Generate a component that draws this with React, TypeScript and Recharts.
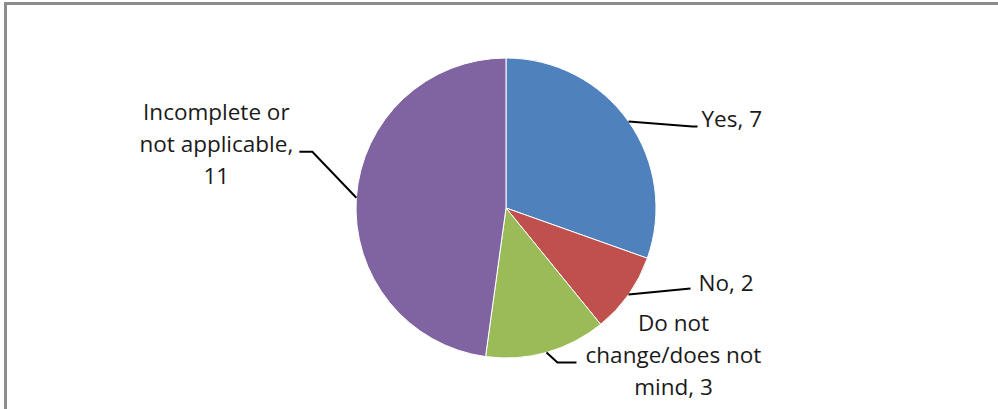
import React from 'react';
import { PieChart, Pie, Cell } from 'recharts';

const categories = ['Yes', 'No', 'Do not change/does not mind', 'Incomplete or not applicable'];
const counts = [7, 2, 3, 11];
const labelLines = [
  ['Yes, 7'],
  ['No, 2'],
  ['Do not', 'change/does not', 'mind, 3'],
  ['Incomplete or', 'not applicable,', '11'],
];

const COLORS = ['#4f81bd', '#c0504d', '#9bbb59', '#8064a2'];

const data = categories.map((name, i) => ({ name, value: counts[i] }));

// leader line bends and text placement, offsets from the slice edge point
const LABEL_LAYOUT = [
  { pts: [[64, 5], [69, 5]], tx: 73, ty: 6, anchor: 'start' },
  { pts: [[62, -6]], tx: 70, ty: -4, anchor: 'start' },
  { pts: [[11, 10], [30, 10]], tx: 127, ty: -21, anchor: 'middle' },
  { pts: [[-44, -46], [-57, -46]], tx: -140, ty: -78, anchor: 'middle' },
];

const RADIAN = Math.PI / 180;
const LINE_H = 32;

const renderLabel = (props: any) => {
  const { cx, cy, midAngle, outerRadius, index } = props;
  const ex = cx + outerRadius * Math.cos(-midAngle * RADIAN);
  const ey = cy + outerRadius * Math.sin(-midAngle * RADIAN);
  const lay = LABEL_LAYOUT[index];
  const path = [[ex, ey], ...lay.pts.map(([dx, dy]) => [ex + dx, ey + dy])]
    .map((p, i) => `${i === 0 ? 'M' : 'L'}${p[0]},${p[1]}`)
    .join(' ');
  return (
    <g key={`lbl-${index}`}>
      <path d={path} stroke="#000" strokeWidth={2} fill="none" />
      <text
        x={ex + lay.tx}
        y={ey + lay.ty}
        textAnchor={lay.anchor as any}
        fill="#1a1a1a"
        fontSize={22.5}
        fontFamily="'Open Sans', sans-serif"
      >
        {labelLines[index].map((t, i) => (
          <tspan key={i} x={ex + lay.tx} dy={i === 0 ? 0 : LINE_H}>
            {t}
          </tspan>
        ))}
      </text>
    </g>
  );
};

export default function App() {
  return (
    <div
      style={{
        position: 'absolute',
        left: 0,
        top: 0,
        width: 998,
        height: 409,
        overflow: 'hidden',
        background: '#fff',
      }}
    >
      <div
        style={{
          position: 'absolute',
          left: 4,
          top: 2,
          width: 1010,
          height: 430,
          borderTop: '3px solid #8c8c8c',
          borderLeft: '3px solid #8c8c8c',
        }}
      />
      <div style={{ position: 'absolute', left: 0, top: 0 }}>
        <PieChart width={998} height={409} margin={{ top: 0, right: 0, bottom: 0, left: 0 }}>
          <Pie
            data={data}
            dataKey="value"
            nameKey="name"
            cx={506}
            cy={208}
            outerRadius={150}
            startAngle={90}
            endAngle={-270}
            stroke="#fff"
            strokeWidth={1}
            labelLine={false}
            label={renderLabel}
            isAnimationActive={false}
          >
            {data.map((entry, index) => (
              <Cell key={`cell-${index}`} fill={COLORS[index % COLORS.length]} />
            ))}
          </Pie>
        </PieChart>
      </div>
    </div>
  );
}
